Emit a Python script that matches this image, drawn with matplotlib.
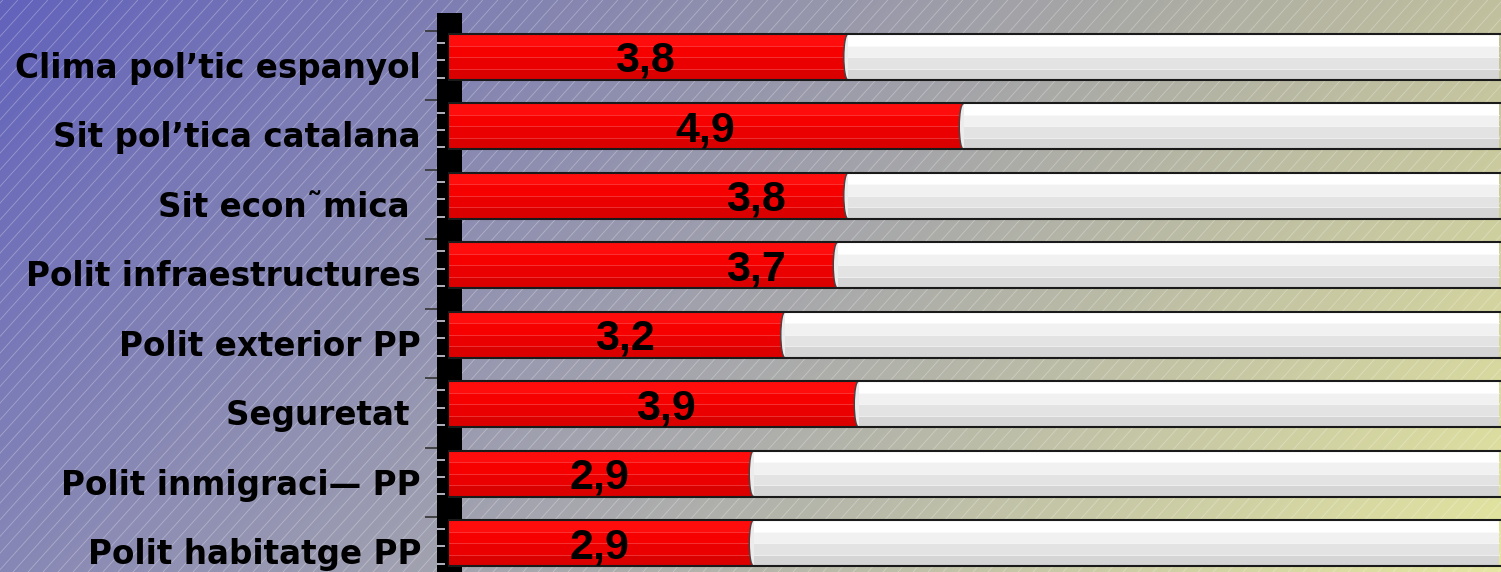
import numpy as np
import matplotlib
matplotlib.use("Agg")
import matplotlib.pyplot as plt
from matplotlib.patches import Ellipse, Rectangle

# ---------------- data ----------------
categories = [
    "Clima pol\u2019tic espanyol",
    "Sit pol\u2019tica catalana",
    "Sit econ\u02dcmica ",
    "Polit infraestructures",
    "Polit exterior PP",
    "Seguretat ",
    "Polit inmigraci\u2014 PP",
    "Polit habitatge PP",
]
values = [3.8, 4.9, 3.8, 3.7, 3.2, 3.9, 2.9, 2.9]
value_labels = ["3,8", "4,9", "3,8", "3,7", "3,2", "3,9", "2,9", "2,9"]
scale_max = 10
# x position (data units) where each value label sits, as placed in the original
label_x = [1.87, 2.44, 2.92, 2.92, 1.68, 2.07, 1.43, 1.43]

# ---------------- figure ----------------
W, H, DPI = 1501, 572, 100
fig = plt.figure(figsize=(W / DPI, H / DPI), dpi=DPI)

# background gradient + diagonal hatch
bg = fig.add_axes([0, 0, 1, 1], zorder=0)
bg.set_xlim(0, W)
bg.set_ylim(H, 0)
bg.axis("off")
tl = np.array([98, 98, 188]) / 255
tr = np.array([192, 192, 158]) / 255
bl = np.array([135, 135, 182]) / 255
br = np.array([228, 230, 160]) / 255
nx, ny = 300, 120
u = np.linspace(0, 1, nx)[None, :, None]
v = np.linspace(0, 1, ny)[:, None, None]
img = (1 - u) * (1 - v) * tl + u * (1 - v) * tr + (1 - u) * v * bl + u * v * br
bg.imshow(img, extent=(0, W, H, 0), aspect="auto", interpolation="bilinear")
spacing = 15
for x0 in np.arange(-H, W + H, spacing):
    bg.plot([x0, x0 + H * 0.9], [H, 0], color="white", lw=0.6, alpha=0.3,
            solid_capstyle="butt")

# main axes
px_left = 437
unit_px = 105.0
x0_data = -(449 - px_left) / unit_px
x1_data = x0_data + (W - px_left) / unit_px
step_px = 69.43
first_c = 57
y_top = -first_c / step_px
y_bot = (H - first_c) / step_px

ax = fig.add_axes([px_left / W, 0, (W - px_left) / W, 1], zorder=1)
ax.set_xlim(x0_data, x1_data)
ax.set_ylim(y_bot, y_top)
ax.patch.set_alpha(0)
for s in ax.spines.values():
    s.set_visible(False)
ax.set_xticks([])

n = len(categories)
ypos = np.arange(n)
bar_h = 46 / step_px

# black vertical block
blk_w = (462 - px_left) / unit_px
ax.add_patch(Rectangle((x0_data, (13 - first_c) / step_px), blk_w,
                       y_bot - (13 - first_c) / step_px, facecolor="black",
                       edgecolor="none", zorder=1, clip_on=False))

# ticks on the left
ax.set_yticks(ypos - 0.375)
ax.set_yticklabels([])
ax.tick_params(axis="y", which="major", length=9, width=1.2, color="#333333",
               direction="out")
minor = np.concatenate([ypos - 0.2, ypos + 0.05, ypos + 0.3])
ax.set_yticks(minor, minor=True)
ax.tick_params(axis="y", which="minor", length=6, width=1.2, color="#d0d0e0",
               direction="in")

red_bands = ["#ff0c0c", "#f70000", "#ea0000", "#da0000"]
white_bands = ["#ffffff", "#f1f1f1", "#e3e3e3", "#d5d5d5"]
nb = len(red_bands)
bh = bar_h / nb

for i, (val, yc) in enumerate(zip(values, ypos)):
    top = yc - bar_h / 2
    for k in range(nb):
        yk = top + bh * (k + 0.5)
        ax.barh(yk, val, left=0, height=bh, color=red_bands[k],
                edgecolor="none", zorder=2)
        ax.barh(yk, scale_max - val, left=val, height=bh, color=white_bands[k],
                edgecolor="none", zorder=3)
    for k in range(1, nb):
        yl = top + bh * k
        ax.plot([0, val], [yl, yl], color="#ff6060", lw=0.6, alpha=0.6, zorder=2.5)
        ax.plot([val, scale_max], [yl, yl], color="#ffffff", lw=0.6, alpha=0.7,
                zorder=3.5)
    # rounded start of the white part
    ax.add_patch(Ellipse((val, yc), 0.08, bar_h, facecolor="#ececec",
                         edgecolor="#444444", lw=1.0, zorder=2.8))
    ax.plot([0, x1_data], [top, top], color="#1a1a1a", lw=1.5, zorder=4)
    ax.plot([0, x1_data], [top + bar_h, top + bar_h], color="#1a1a1a", lw=1.5,
            zorder=4)
    ax.text(label_x[i], yc + 15 / step_px, value_labels[i], ha="center",
            va="baseline", fontsize=31, fontweight="bold",
            family="Liberation Sans", color="black", zorder=5)
    ax.text(-(449 - 421) / unit_px, yc + 21 / step_px, categories[i],
            ha="right", va="baseline", fontsize=23.5, fontweight="bold",
            family="DejaVu Sans", color="black", zorder=5, clip_on=False)

fig.savefig("out.png", dpi=DPI)
